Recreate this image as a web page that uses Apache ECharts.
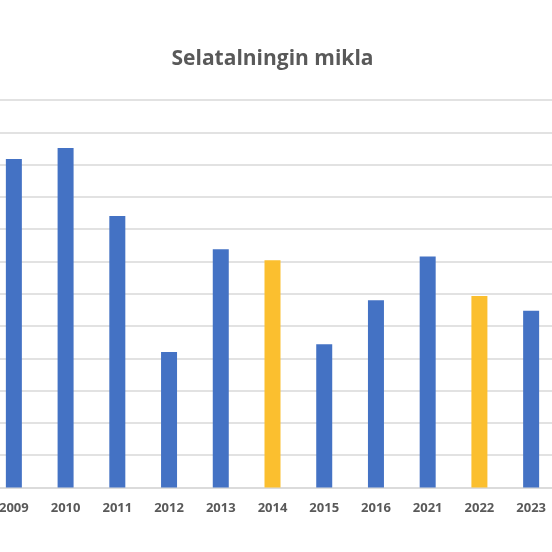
<!DOCTYPE html>
<html><head><meta charset="utf-8">
<script src="https://cdn.jsdelivr.net/npm/echarts@6/dist/echarts.min.js"></script>
<style>html,body{margin:0;padding:0;background:#fff;overflow:hidden;width:552px;height:552px}#c{width:569px;height:552px;margin-left:-12px}</style>
</head><body><div id="c"></div>
<script>
const categories = ['2009','2010','2011','2012','2013','2014','2015','2016','2021','2022','2023'];
const values = [10.17,10.51,8.41,4.2,7.38,7.04,4.44,5.8,7.15,5.93,5.47];
const highlighted = ['2014','2022'];
const chart = echarts.init(document.getElementById('c'));
chart.setOption({
  animation:false,
  title:{text:'Selatalningin mikla',left:'center',top:44,textStyle:{fontFamily:'Open Sans',fontSize:21,fontWeight:'bold',color:'#595959'}},
  grid:{left:0,right:0,top:100,bottom:64.5},
  xAxis:{type:'category',data:categories,axisTick:{show:false},
    axisLine:{lineStyle:{color:'#d9d9d9',width:1.5}},
    axisLabel:{fontFamily:'Open Sans',fontSize:13,fontWeight:'bold',color:'#595959',margin:14}},
  yAxis:{type:'value',min:0,max:12,interval:1,axisLabel:{show:false},
    splitLine:{lineStyle:{color:'#d9d9d9',width:1.5}}},
  series:[{type:'bar',barWidth:16,
    data:values.map((v,i)=>({value:v,itemStyle:{color:highlighted.includes(categories[i])?'#fbbf2f':'#4472c4'}}))}]
});
</script></body></html>
